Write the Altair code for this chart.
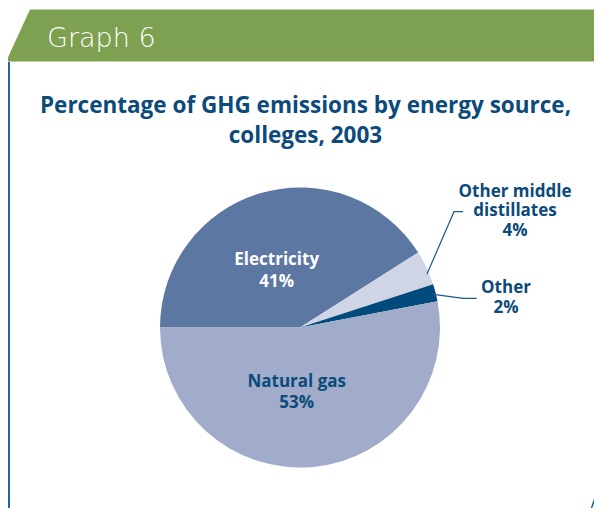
import math
import altair as alt
import pandas as pd

# ---- data ----
categories = ["Electricity", "Other middle distillates", "Other", "Natural gas"]
values = [41, 4, 2, 53]
label_lines = [["Electricity"], ["Other middle", "distillates"], ["Other"], ["Natural gas"]]
colors = ["#5b77a2", "#d0d5e6", "#004a7c", "#a0acc9"]
title_lines = ["Percentage of GHG emissions by energy source,", "colleges, 2003"]
header_text = "Graph  6"

# ---- layout (view pixel coordinates) ----
W, H = 586, 500
CX, CY, R = 292, 319.5, 140
label_layout = {
    "Electricity": dict(x=268.7, y=257, lh=21.5, color="white"),
    "Other middle distillates": dict(x=507, y=188.7, lh=19.5, color="#0b4a7a"),
    "Other": dict(x=498, y=285, lh=20, color="#0b4a7a"),
    "Natural gas": dict(x=288.7, y=378.7, lh=21.5, color="#0b4a7a"),
}
leaders = [
    [(419, 266), (446, 203.7), (455, 203.7)],
    [(425.3, 286.3), (455.3, 290.3), (468.7, 290.3)],
]
TEXT_BLUE = "#0b4a7a"

pie_df = pd.DataFrame({"category": categories, "value": values, "order": list(range(len(categories)))})

pie = alt.Chart(pie_df).mark_arc(outerRadius=R).encode(
    theta=alt.Theta("value:Q", stack=True,
                    scale=alt.Scale(range=[1.5 * math.pi, 3.5 * math.pi])),
    order=alt.Order("order:Q"),
    color=alt.Color("category:N", scale=alt.Scale(domain=categories, range=colors), legend=None),
    x=alt.value(CX),
    y=alt.value(CY),
)

# banner as a custom symbol path
s = 300.0
bx, by = 293, 27.5
pts = [(-2, 53.5), (22, 1.5), (590, 1.5), (590, 53.5)]
path = "M" + "L".join(f"{(px - bx) / s:.5f},{(py - by) / s:.5f}" for px, py in pts) + "Z"
banner = alt.Chart(pd.DataFrame({"a": [0]})).mark_point(
    shape=path, filled=True, color="#7da150", opacity=1, size=(2 * s) ** 2, strokeWidth=0
).encode(x=alt.value(bx), y=alt.value(by))

header = alt.Chart(pd.DataFrame({"t": [header_text]})).mark_text(
    font="DejaVu Sans", fontSize=27, fontWeight=200, color="white", align="left", baseline="alphabetic"
).encode(x=alt.value(39), y=alt.value(38.5), text="t:N")

title = alt.Chart(pd.DataFrame({"t": ["\n".join(title_lines)]})).mark_text(
    font="Open Sans", fontSize=22.5, fontWeight="bold", color=TEXT_BLUE, align="center",
    baseline="alphabetic", lineBreak="\n", lineHeight=30
).encode(x=alt.value(297.5), y=alt.value(105), text="t:N")

left_line = alt.Chart(pd.DataFrame({"a": [0]})).mark_rule(color="#2265a0", strokeWidth=2).encode(
    x=alt.value(1), x2=alt.value(1), y=alt.value(54), y2=alt.value(H)
)
br_line = alt.Chart(pd.DataFrame({"a": [0]})).mark_rule(color="#2265a0", strokeWidth=1.5).encode(
    x=alt.value(583.5), x2=alt.value(594), y=alt.value(H), y2=alt.value(470)
)

layers = [banner, header, title, left_line, br_line, pie]

for cat, val, lines in zip(categories, values, label_lines):
    lay = label_layout[cat]
    txt = "\n".join(lines + [f"{val}%"])
    layers.append(
        alt.Chart(pd.DataFrame({"t": [txt]})).mark_text(
            font="Open Sans", fontSize=17, fontWeight="bold", color=lay["color"], align="center",
            baseline="alphabetic", lineBreak="\n", lineHeight=lay["lh"]
        ).encode(x=alt.value(lay["x"]), y=alt.value(lay["y"]), text="t:N")
    )

lead_rows = []
for i, seg in enumerate(leaders):
    for j, (px, py) in enumerate(seg):
        lead_rows.append({"id": i, "seq": j, "px": px, "py": py})
lead = alt.Chart(pd.DataFrame(lead_rows)).mark_line(color="#1a5a8c", strokeWidth=1.2).encode(
    x=alt.X("px:Q", scale=None, axis=None),
    y=alt.Y("py:Q", scale=None, axis=None),
    detail="id:N",
    order="seq:Q",
)
layers.append(lead)

chart = alt.layer(*layers).properties(
    width=W, height=H, autosize="none", padding=0
).configure_view(stroke=None)

chart.save("out.html", embed_options={"renderer": "svg", "actions": False})
